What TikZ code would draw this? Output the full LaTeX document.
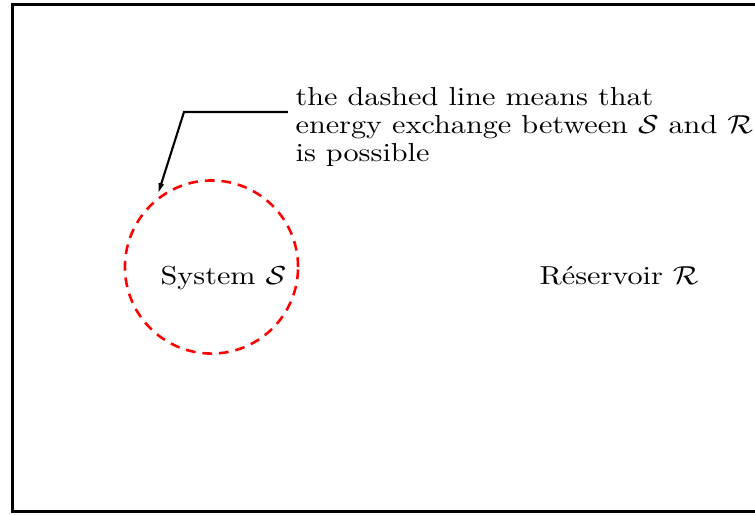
\documentclass[tikz,border=0pt]{standalone}
\usepackage{fontspec}
\usetikzlibrary{arrows.meta}
\begin{document}
\begin{tikzpicture}[x=0.331pt,y=-0.331pt,
  frame/.style={draw=black,line width=1pt},
  label/.style={inner sep=0pt,anchor=base west,yscale=0.86,font=\fontsize{10}{10.7}\selectfont},
  leader/.style={draw=black,line width=0.7pt,-{Latex[length=3.6pt,width=2pt]}},
  sysborder/.style={circle,draw=red,line width=0.85pt,dash pattern=on 3.2pt off 2.3pt,minimum size=57.3pt,inner sep=0pt}]
\useasboundingbox (0,0) rectangle (755,514);
\clip (0,0) rectangle (755,514);
\draw[frame] (12.5,4) rectangle (820,511);
\node[sysborder] (sys) at (211.5,267) {};
\node[label] (syslabel) at (160,284) {System $\mathcal{S}$};
\node[label] (reslabel) at (539,284) {Réservoir $\mathcal{R}$};
\node[label,align=left] (note) at (295,161) {the dashed line means that\\energy exchange between $\mathcal{S}$ and $\mathcal{R}$\\is possible};
\coordinate (lead) at (288,112);
\coordinate (bend) at (184,112);
\coordinate (tip) at (158,194);
\draw[leader] (lead) -- (bend) -- (tip);
\end{tikzpicture}
\end{document}
